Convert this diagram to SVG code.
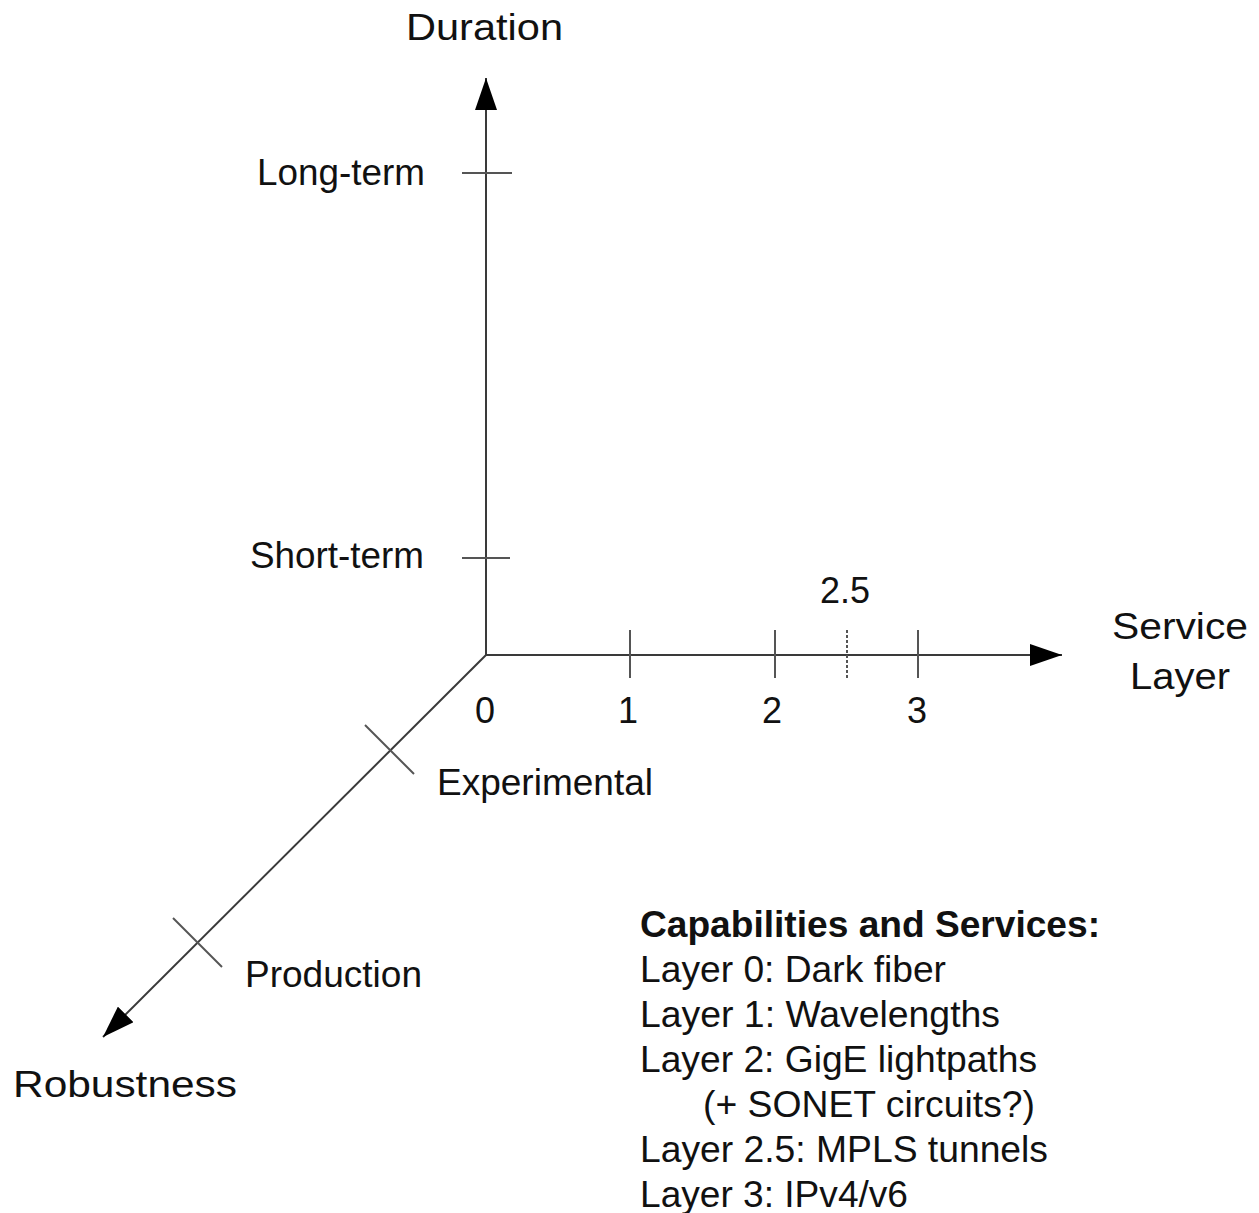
<svg xmlns="http://www.w3.org/2000/svg" width="1259" height="1213" viewBox="0 0 1259 1213">
<style>
.ax{stroke:#3a3a3a;stroke-width:2;fill:none}
.tk{stroke:#555;stroke-width:2;fill:none}
.dt{stroke:#555;stroke-width:2;fill:none;stroke-dasharray:3 2}
text{font-family:"Liberation Sans",Arial,sans-serif;font-size:36px;fill:#111}
.b{font-weight:bold}
</style>
<defs>
<marker id="arr" markerUnits="userSpaceOnUse" viewBox="0 0 32 22" refX="32" refY="11" markerWidth="32" markerHeight="22" orient="auto">
<path d="M0,0 L32,11 L0,22 z" fill="#000"/>
</marker>
</defs>
<rect width="1259" height="1213" fill="#fff"/>
<g id="connectors">
<line class="ax" x1="486" y1="655" x2="486" y2="78" marker-end="url(#arr)"/>
<line class="ax" x1="486" y1="655" x2="1062" y2="655" marker-end="url(#arr)"/>
<line class="ax" x1="486" y1="655" x2="103" y2="1037" marker-end="url(#arr)"/>
<line class="tk" x1="462" y1="173" x2="512" y2="173"/>
<line class="tk" x1="462" y1="558" x2="510" y2="558"/>
<line class="tk" x1="630" y1="630" x2="630" y2="678"/>
<line class="tk" x1="775" y1="630" x2="775" y2="678"/>
<line class="dt" x1="847" y1="630" x2="847" y2="680"/>
<line class="tk" x1="918" y1="630" x2="918" y2="678"/>
<line class="tk" x1="365" y1="725" x2="414" y2="774"/>
<line class="tk" x1="173" y1="918" x2="222" y2="967"/>
</g>
<g id="duration"><text x="406" y="40" textLength="157" lengthAdjust="spacingAndGlyphs">Duration</text></g>
<g id="long-term"><text x="257" y="185" textLength="168" lengthAdjust="spacingAndGlyphs">Long-term</text></g>
<g id="short-term"><text x="250" y="568" textLength="174" lengthAdjust="spacingAndGlyphs">Short-term</text></g>
<g id="service-layer">
<text x="1112" y="639" textLength="136" lengthAdjust="spacingAndGlyphs">Service</text>
<text x="1130" y="689" textLength="100" lengthAdjust="spacingAndGlyphs">Layer</text>
</g>
<g id="label-2-5"><text x="820" y="603" textLength="50" lengthAdjust="spacingAndGlyphs">2.5</text></g>
<g id="label-0"><text x="485" y="723" text-anchor="middle">0</text></g>
<g id="label-1"><text x="628" y="723" text-anchor="middle">1</text></g>
<g id="label-2"><text x="772" y="723" text-anchor="middle">2</text></g>
<g id="label-3"><text x="917" y="723" text-anchor="middle">3</text></g>
<g id="experimental"><text x="437" y="795" textLength="216" lengthAdjust="spacingAndGlyphs">Experimental</text></g>
<g id="production"><text x="245" y="987" textLength="177" lengthAdjust="spacingAndGlyphs">Production</text></g>
<g id="robustness"><text x="13" y="1097" textLength="224" lengthAdjust="spacingAndGlyphs">Robustness</text></g>
<g id="capabilities">
<text class="b" x="640" y="937" textLength="460" lengthAdjust="spacingAndGlyphs">Capabilities and Services:</text>
<text x="640" y="982" textLength="306" lengthAdjust="spacingAndGlyphs">Layer 0: Dark fiber</text>
<text x="640" y="1027" textLength="360" lengthAdjust="spacingAndGlyphs">Layer 1: Wavelengths</text>
<text x="640" y="1072" textLength="397" lengthAdjust="spacingAndGlyphs">Layer 2: GigE lightpaths</text>
<text x="703" y="1117" textLength="332" lengthAdjust="spacingAndGlyphs">(+ SONET circuits?)</text>
<text x="640" y="1162" textLength="408" lengthAdjust="spacingAndGlyphs">Layer 2.5: MPLS tunnels</text>
<text x="640" y="1207" textLength="268" lengthAdjust="spacingAndGlyphs">Layer 3: IPv4/v6</text>
</g>
</svg>
